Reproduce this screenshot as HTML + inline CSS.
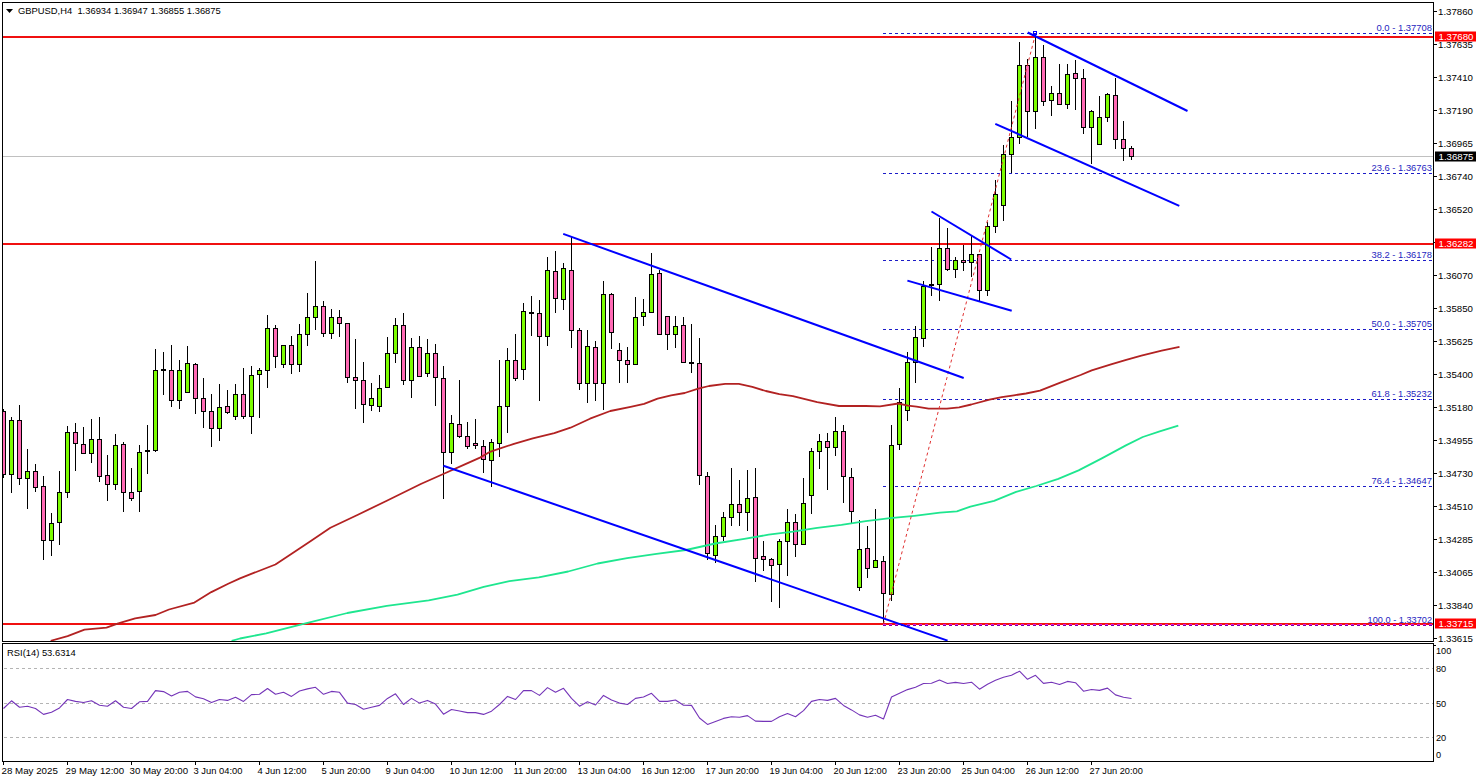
<!DOCTYPE html><html><head><meta charset="utf-8"><style>html,body{margin:0;padding:0;background:#fff;overflow:hidden}svg{display:block}text{font-family:"Liberation Sans",sans-serif;}</style></head><body><svg width="1479" height="782" viewBox="0 0 1479 782"><rect width="1479" height="782" fill="#fff"/><defs><clipPath id="mp"><rect x="3" y="3" width="1430" height="638"/></clipPath><clipPath id="rp"><rect x="3" y="644" width="1430" height="117"/></clipPath></defs><g clip-path="url(#mp)"><rect x="3" y="36" width="1430" height="2" fill="#f01010"/><rect x="3" y="243" width="1430" height="2" fill="#f01010"/><rect x="3" y="623" width="1430" height="2" fill="#f01010"/><rect x="3" y="156" width="1430" height="1" fill="#c0c0c0"/><line x1="883" y1="33.5" x2="1433" y2="33.5" stroke="#1c1cc8" stroke-width="1" stroke-dasharray="3,3"/><line x1="883" y1="173.5" x2="1433" y2="173.5" stroke="#1c1cc8" stroke-width="1" stroke-dasharray="3,3"/><line x1="883" y1="260.5" x2="1433" y2="260.5" stroke="#1c1cc8" stroke-width="1" stroke-dasharray="3,3"/><line x1="883" y1="329.5" x2="1433" y2="329.5" stroke="#1c1cc8" stroke-width="1" stroke-dasharray="3,3"/><line x1="883" y1="399.5" x2="1433" y2="399.5" stroke="#1c1cc8" stroke-width="1" stroke-dasharray="3,3"/><line x1="883" y1="486.5" x2="1433" y2="486.5" stroke="#1c1cc8" stroke-width="1" stroke-dasharray="3,3"/><line x1="883" y1="624.5" x2="1433" y2="624.5" stroke="#e020e0" stroke-width="1" stroke-dasharray="3,3"/><line x1="883" y1="625.5" x2="1433" y2="625.5" stroke="#8000a0" stroke-width="1" stroke-dasharray="3,3"/><g shape-rendering="crispEdges"><rect x="3" y="409" width="1" height="69" fill="#000"/><rect x="1" y="411" width="5" height="64" fill="#000"/><rect x="2" y="412" width="3" height="62" fill="#ff69b4"/><rect x="11" y="417" width="1" height="76" fill="#000"/><rect x="9" y="420" width="5" height="55" fill="#000"/><rect x="10" y="421" width="3" height="53" fill="#7cfc00"/><rect x="19" y="405" width="1" height="80" fill="#000"/><rect x="17" y="420" width="5" height="59" fill="#000"/><rect x="18" y="421" width="3" height="57" fill="#ff69b4"/><rect x="27" y="449" width="1" height="60" fill="#000"/><rect x="25" y="471" width="5" height="8" fill="#000"/><rect x="26" y="472" width="3" height="6" fill="#7cfc00"/><rect x="35" y="464" width="1" height="28" fill="#000"/><rect x="33" y="471" width="5" height="17" fill="#000"/><rect x="34" y="472" width="3" height="15" fill="#ff69b4"/><rect x="43" y="476" width="1" height="84" fill="#000"/><rect x="41" y="486" width="5" height="55" fill="#000"/><rect x="42" y="487" width="3" height="53" fill="#ff69b4"/><rect x="51" y="513" width="1" height="43" fill="#000"/><rect x="49" y="523" width="5" height="18" fill="#000"/><rect x="50" y="524" width="3" height="16" fill="#7cfc00"/><rect x="59" y="471" width="1" height="74" fill="#000"/><rect x="57" y="492" width="5" height="31" fill="#000"/><rect x="58" y="493" width="3" height="29" fill="#7cfc00"/><rect x="67" y="426" width="1" height="72" fill="#000"/><rect x="65" y="432" width="5" height="61" fill="#000"/><rect x="66" y="433" width="3" height="59" fill="#7cfc00"/><rect x="75" y="423" width="1" height="48" fill="#000"/><rect x="73" y="432" width="5" height="12" fill="#000"/><rect x="74" y="433" width="3" height="10" fill="#ff69b4"/><rect x="83" y="427" width="1" height="27" fill="#000"/><rect x="81" y="444" width="5" height="10" fill="#000"/><rect x="82" y="445" width="3" height="8" fill="#ff69b4"/><rect x="91" y="419" width="1" height="44" fill="#000"/><rect x="89" y="439" width="5" height="15" fill="#000"/><rect x="90" y="440" width="3" height="13" fill="#7cfc00"/><rect x="99" y="417" width="1" height="65" fill="#000"/><rect x="97" y="439" width="5" height="38" fill="#000"/><rect x="98" y="440" width="3" height="36" fill="#ff69b4"/><rect x="107" y="455" width="1" height="46" fill="#000"/><rect x="105" y="475" width="5" height="10" fill="#000"/><rect x="106" y="476" width="3" height="8" fill="#ff69b4"/><rect x="115" y="434" width="1" height="56" fill="#000"/><rect x="113" y="445" width="5" height="40" fill="#000"/><rect x="114" y="446" width="3" height="38" fill="#7cfc00"/><rect x="123" y="442" width="1" height="70" fill="#000"/><rect x="121" y="444" width="5" height="49" fill="#000"/><rect x="122" y="445" width="3" height="47" fill="#ff69b4"/><rect x="131" y="468" width="1" height="33" fill="#000"/><rect x="129" y="492" width="5" height="7" fill="#000"/><rect x="130" y="493" width="3" height="5" fill="#ff69b4"/><rect x="139" y="445" width="1" height="67" fill="#000"/><rect x="137" y="452" width="5" height="40" fill="#000"/><rect x="138" y="453" width="3" height="38" fill="#7cfc00"/><rect x="147" y="425" width="1" height="49" fill="#000"/><rect x="145" y="450" width="5" height="2" fill="#000"/><rect x="155" y="349" width="1" height="103" fill="#000"/><rect x="153" y="370" width="5" height="81" fill="#000"/><rect x="154" y="371" width="3" height="79" fill="#7cfc00"/><rect x="163" y="352" width="1" height="43" fill="#000"/><rect x="161" y="369" width="5" height="2" fill="#000"/><rect x="171" y="345" width="1" height="62" fill="#000"/><rect x="169" y="370" width="5" height="31" fill="#000"/><rect x="170" y="371" width="3" height="29" fill="#ff69b4"/><rect x="179" y="360" width="1" height="49" fill="#000"/><rect x="177" y="370" width="5" height="31" fill="#000"/><rect x="178" y="371" width="3" height="29" fill="#7cfc00"/><rect x="187" y="346" width="1" height="47" fill="#000"/><rect x="185" y="363" width="5" height="30" fill="#000"/><rect x="186" y="364" width="3" height="28" fill="#7cfc00"/><rect x="195" y="363" width="1" height="51" fill="#000"/><rect x="193" y="364" width="5" height="35" fill="#000"/><rect x="194" y="365" width="3" height="33" fill="#ff69b4"/><rect x="203" y="378" width="1" height="50" fill="#000"/><rect x="201" y="398" width="5" height="14" fill="#000"/><rect x="202" y="399" width="3" height="12" fill="#ff69b4"/><rect x="211" y="394" width="1" height="53" fill="#000"/><rect x="209" y="411" width="5" height="18" fill="#000"/><rect x="210" y="412" width="3" height="16" fill="#ff69b4"/><rect x="219" y="384" width="1" height="57" fill="#000"/><rect x="217" y="407" width="5" height="22" fill="#000"/><rect x="218" y="408" width="3" height="20" fill="#7cfc00"/><rect x="227" y="390" width="1" height="24" fill="#000"/><rect x="225" y="406" width="5" height="7" fill="#000"/><rect x="226" y="407" width="3" height="5" fill="#ff69b4"/><rect x="235" y="384" width="1" height="36" fill="#000"/><rect x="233" y="394" width="5" height="23" fill="#000"/><rect x="234" y="395" width="3" height="21" fill="#7cfc00"/><rect x="243" y="368" width="1" height="51" fill="#000"/><rect x="241" y="394" width="5" height="23" fill="#000"/><rect x="242" y="395" width="3" height="21" fill="#ff69b4"/><rect x="251" y="366" width="1" height="68" fill="#000"/><rect x="249" y="375" width="5" height="42" fill="#000"/><rect x="250" y="376" width="3" height="40" fill="#7cfc00"/><rect x="259" y="368" width="1" height="50" fill="#000"/><rect x="257" y="370" width="5" height="5" fill="#000"/><rect x="258" y="371" width="3" height="3" fill="#7cfc00"/><rect x="267" y="315" width="1" height="73" fill="#000"/><rect x="265" y="328" width="5" height="43" fill="#000"/><rect x="266" y="329" width="3" height="41" fill="#7cfc00"/><rect x="275" y="325" width="1" height="43" fill="#000"/><rect x="273" y="328" width="5" height="29" fill="#000"/><rect x="274" y="329" width="3" height="27" fill="#ff69b4"/><rect x="283" y="345" width="1" height="23" fill="#000"/><rect x="281" y="345" width="5" height="20" fill="#000"/><rect x="282" y="346" width="3" height="18" fill="#7cfc00"/><rect x="291" y="336" width="1" height="38" fill="#000"/><rect x="289" y="345" width="5" height="20" fill="#000"/><rect x="290" y="346" width="3" height="18" fill="#ff69b4"/><rect x="299" y="324" width="1" height="48" fill="#000"/><rect x="297" y="334" width="5" height="31" fill="#000"/><rect x="298" y="335" width="3" height="29" fill="#7cfc00"/><rect x="307" y="293" width="1" height="53" fill="#000"/><rect x="305" y="317" width="5" height="18" fill="#000"/><rect x="306" y="318" width="3" height="16" fill="#7cfc00"/><rect x="315" y="261" width="1" height="69" fill="#000"/><rect x="313" y="306" width="5" height="12" fill="#000"/><rect x="314" y="307" width="3" height="10" fill="#7cfc00"/><rect x="323" y="301" width="1" height="36" fill="#000"/><rect x="321" y="306" width="5" height="28" fill="#000"/><rect x="322" y="307" width="3" height="26" fill="#ff69b4"/><rect x="331" y="309" width="1" height="30" fill="#000"/><rect x="329" y="317" width="5" height="17" fill="#000"/><rect x="330" y="318" width="3" height="15" fill="#7cfc00"/><rect x="339" y="310" width="1" height="27" fill="#000"/><rect x="337" y="317" width="5" height="7" fill="#000"/><rect x="338" y="318" width="3" height="5" fill="#ff69b4"/><rect x="347" y="323" width="1" height="60" fill="#000"/><rect x="345" y="323" width="5" height="55" fill="#000"/><rect x="346" y="324" width="3" height="53" fill="#ff69b4"/><rect x="355" y="339" width="1" height="70" fill="#000"/><rect x="353" y="377" width="5" height="4" fill="#000"/><rect x="354" y="378" width="3" height="2" fill="#ff69b4"/><rect x="363" y="362" width="1" height="61" fill="#000"/><rect x="361" y="380" width="5" height="25" fill="#000"/><rect x="362" y="381" width="3" height="23" fill="#ff69b4"/><rect x="371" y="383" width="1" height="28" fill="#000"/><rect x="369" y="398" width="5" height="8" fill="#000"/><rect x="370" y="399" width="3" height="6" fill="#7cfc00"/><rect x="379" y="375" width="1" height="37" fill="#000"/><rect x="377" y="388" width="5" height="19" fill="#000"/><rect x="378" y="389" width="3" height="17" fill="#7cfc00"/><rect x="387" y="337" width="1" height="51" fill="#000"/><rect x="385" y="353" width="5" height="35" fill="#000"/><rect x="386" y="354" width="3" height="33" fill="#7cfc00"/><rect x="395" y="318" width="1" height="45" fill="#000"/><rect x="393" y="325" width="5" height="29" fill="#000"/><rect x="394" y="326" width="3" height="27" fill="#7cfc00"/><rect x="403" y="313" width="1" height="72" fill="#000"/><rect x="401" y="325" width="5" height="56" fill="#000"/><rect x="402" y="326" width="3" height="54" fill="#ff69b4"/><rect x="411" y="338" width="1" height="60" fill="#000"/><rect x="409" y="347" width="5" height="34" fill="#000"/><rect x="410" y="348" width="3" height="32" fill="#7cfc00"/><rect x="419" y="336" width="1" height="41" fill="#000"/><rect x="417" y="347" width="5" height="30" fill="#000"/><rect x="418" y="348" width="3" height="28" fill="#ff69b4"/><rect x="427" y="339" width="1" height="38" fill="#000"/><rect x="425" y="353" width="5" height="21" fill="#000"/><rect x="426" y="354" width="3" height="19" fill="#7cfc00"/><rect x="435" y="344" width="1" height="62" fill="#000"/><rect x="433" y="353" width="5" height="25" fill="#000"/><rect x="434" y="354" width="3" height="23" fill="#ff69b4"/><rect x="443" y="366" width="1" height="133" fill="#000"/><rect x="441" y="378" width="5" height="75" fill="#000"/><rect x="442" y="379" width="3" height="73" fill="#ff69b4"/><rect x="451" y="415" width="1" height="49" fill="#000"/><rect x="449" y="423" width="5" height="30" fill="#000"/><rect x="450" y="424" width="3" height="28" fill="#7cfc00"/><rect x="459" y="380" width="1" height="58" fill="#000"/><rect x="457" y="424" width="5" height="13" fill="#000"/><rect x="458" y="425" width="3" height="11" fill="#ff69b4"/><rect x="467" y="422" width="1" height="27" fill="#000"/><rect x="465" y="436" width="5" height="11" fill="#000"/><rect x="466" y="437" width="3" height="9" fill="#ff69b4"/><rect x="475" y="419" width="1" height="30" fill="#000"/><rect x="473" y="443" width="5" height="3" fill="#000"/><rect x="474" y="444" width="3" height="1" fill="#ff69b4"/><rect x="483" y="440" width="1" height="33" fill="#000"/><rect x="481" y="446" width="5" height="14" fill="#000"/><rect x="482" y="447" width="3" height="12" fill="#ff69b4"/><rect x="491" y="439" width="1" height="48" fill="#000"/><rect x="489" y="442" width="5" height="19" fill="#000"/><rect x="490" y="443" width="3" height="17" fill="#7cfc00"/><rect x="499" y="360" width="1" height="97" fill="#000"/><rect x="497" y="406" width="5" height="38" fill="#000"/><rect x="498" y="407" width="3" height="36" fill="#7cfc00"/><rect x="507" y="348" width="1" height="85" fill="#000"/><rect x="505" y="360" width="5" height="47" fill="#000"/><rect x="506" y="361" width="3" height="45" fill="#7cfc00"/><rect x="515" y="334" width="1" height="47" fill="#000"/><rect x="513" y="360" width="5" height="19" fill="#000"/><rect x="514" y="361" width="3" height="17" fill="#ff69b4"/><rect x="523" y="303" width="1" height="77" fill="#000"/><rect x="521" y="311" width="5" height="59" fill="#000"/><rect x="522" y="312" width="3" height="57" fill="#7cfc00"/><rect x="531" y="296" width="1" height="40" fill="#000"/><rect x="529" y="312" width="5" height="2" fill="#000"/><rect x="539" y="300" width="1" height="101" fill="#000"/><rect x="537" y="313" width="5" height="24" fill="#000"/><rect x="538" y="314" width="3" height="22" fill="#ff69b4"/><rect x="547" y="257" width="1" height="89" fill="#000"/><rect x="545" y="270" width="5" height="67" fill="#000"/><rect x="546" y="271" width="3" height="65" fill="#7cfc00"/><rect x="555" y="251" width="1" height="62" fill="#000"/><rect x="553" y="271" width="5" height="28" fill="#000"/><rect x="554" y="272" width="3" height="26" fill="#ff69b4"/><rect x="563" y="263" width="1" height="47" fill="#000"/><rect x="561" y="268" width="5" height="32" fill="#000"/><rect x="562" y="269" width="3" height="30" fill="#7cfc00"/><rect x="571" y="237" width="1" height="111" fill="#000"/><rect x="569" y="270" width="5" height="61" fill="#000"/><rect x="570" y="271" width="3" height="59" fill="#ff69b4"/><rect x="579" y="328" width="1" height="62" fill="#000"/><rect x="577" y="330" width="5" height="54" fill="#000"/><rect x="578" y="331" width="3" height="52" fill="#ff69b4"/><rect x="587" y="330" width="1" height="73" fill="#000"/><rect x="585" y="346" width="5" height="38" fill="#000"/><rect x="586" y="347" width="3" height="36" fill="#7cfc00"/><rect x="595" y="341" width="1" height="60" fill="#000"/><rect x="593" y="347" width="5" height="37" fill="#000"/><rect x="594" y="348" width="3" height="35" fill="#ff69b4"/><rect x="603" y="281" width="1" height="129" fill="#000"/><rect x="601" y="294" width="5" height="90" fill="#000"/><rect x="602" y="295" width="3" height="88" fill="#7cfc00"/><rect x="611" y="293" width="1" height="56" fill="#000"/><rect x="609" y="294" width="5" height="39" fill="#000"/><rect x="610" y="295" width="3" height="37" fill="#ff69b4"/><rect x="619" y="343" width="1" height="40" fill="#000"/><rect x="617" y="350" width="5" height="11" fill="#000"/><rect x="618" y="351" width="3" height="9" fill="#ff69b4"/><rect x="627" y="347" width="1" height="36" fill="#000"/><rect x="625" y="360" width="5" height="5" fill="#000"/><rect x="626" y="361" width="3" height="3" fill="#ff69b4"/><rect x="635" y="297" width="1" height="68" fill="#000"/><rect x="633" y="317" width="5" height="48" fill="#000"/><rect x="634" y="318" width="3" height="46" fill="#7cfc00"/><rect x="643" y="299" width="1" height="27" fill="#000"/><rect x="641" y="312" width="5" height="5" fill="#000"/><rect x="642" y="313" width="3" height="3" fill="#7cfc00"/><rect x="651" y="253" width="1" height="60" fill="#000"/><rect x="649" y="274" width="5" height="39" fill="#000"/><rect x="650" y="275" width="3" height="37" fill="#7cfc00"/><rect x="659" y="270" width="1" height="65" fill="#000"/><rect x="657" y="273" width="5" height="62" fill="#000"/><rect x="658" y="274" width="3" height="60" fill="#ff69b4"/><rect x="667" y="316" width="1" height="34" fill="#000"/><rect x="665" y="316" width="5" height="19" fill="#000"/><rect x="666" y="317" width="3" height="17" fill="#ff69b4"/><rect x="675" y="316" width="1" height="32" fill="#000"/><rect x="673" y="326" width="5" height="9" fill="#000"/><rect x="674" y="327" width="3" height="7" fill="#7cfc00"/><rect x="683" y="317" width="1" height="46" fill="#000"/><rect x="681" y="325" width="5" height="38" fill="#000"/><rect x="682" y="326" width="3" height="36" fill="#ff69b4"/><rect x="691" y="324" width="1" height="49" fill="#000"/><rect x="689" y="362" width="5" height="2" fill="#000"/><rect x="699" y="338" width="1" height="147" fill="#000"/><rect x="697" y="363" width="5" height="113" fill="#000"/><rect x="698" y="364" width="3" height="111" fill="#ff69b4"/><rect x="707" y="472" width="1" height="88" fill="#000"/><rect x="705" y="476" width="5" height="78" fill="#000"/><rect x="706" y="477" width="3" height="76" fill="#ff69b4"/><rect x="715" y="525" width="1" height="38" fill="#000"/><rect x="713" y="536" width="5" height="20" fill="#000"/><rect x="714" y="537" width="3" height="18" fill="#7cfc00"/><rect x="723" y="512" width="1" height="29" fill="#000"/><rect x="721" y="517" width="5" height="20" fill="#000"/><rect x="722" y="518" width="3" height="18" fill="#7cfc00"/><rect x="731" y="468" width="1" height="58" fill="#000"/><rect x="729" y="504" width="5" height="14" fill="#000"/><rect x="730" y="505" width="3" height="12" fill="#7cfc00"/><rect x="739" y="480" width="1" height="46" fill="#000"/><rect x="737" y="504" width="5" height="9" fill="#000"/><rect x="738" y="505" width="3" height="7" fill="#ff69b4"/><rect x="747" y="470" width="1" height="61" fill="#000"/><rect x="745" y="498" width="5" height="15" fill="#000"/><rect x="746" y="499" width="3" height="13" fill="#7cfc00"/><rect x="755" y="468" width="1" height="114" fill="#000"/><rect x="753" y="497" width="5" height="62" fill="#000"/><rect x="754" y="498" width="3" height="60" fill="#ff69b4"/><rect x="763" y="541" width="1" height="30" fill="#000"/><rect x="761" y="556" width="5" height="4" fill="#000"/><rect x="762" y="557" width="3" height="2" fill="#ff69b4"/><rect x="771" y="558" width="1" height="44" fill="#000"/><rect x="769" y="559" width="5" height="7" fill="#000"/><rect x="770" y="560" width="3" height="5" fill="#ff69b4"/><rect x="779" y="539" width="1" height="69" fill="#000"/><rect x="777" y="541" width="5" height="24" fill="#000"/><rect x="778" y="542" width="3" height="22" fill="#7cfc00"/><rect x="787" y="509" width="1" height="67" fill="#000"/><rect x="785" y="522" width="5" height="20" fill="#000"/><rect x="786" y="523" width="3" height="18" fill="#7cfc00"/><rect x="795" y="514" width="1" height="43" fill="#000"/><rect x="793" y="522" width="5" height="23" fill="#000"/><rect x="794" y="523" width="3" height="21" fill="#ff69b4"/><rect x="803" y="478" width="1" height="67" fill="#000"/><rect x="801" y="503" width="5" height="42" fill="#000"/><rect x="802" y="504" width="3" height="40" fill="#7cfc00"/><rect x="811" y="448" width="1" height="66" fill="#000"/><rect x="809" y="451" width="5" height="45" fill="#000"/><rect x="810" y="452" width="3" height="43" fill="#7cfc00"/><rect x="819" y="434" width="1" height="35" fill="#000"/><rect x="817" y="441" width="5" height="11" fill="#000"/><rect x="818" y="442" width="3" height="9" fill="#7cfc00"/><rect x="827" y="433" width="1" height="57" fill="#000"/><rect x="825" y="441" width="5" height="7" fill="#000"/><rect x="826" y="442" width="3" height="5" fill="#ff69b4"/><rect x="835" y="417" width="1" height="39" fill="#000"/><rect x="833" y="431" width="5" height="17" fill="#000"/><rect x="834" y="432" width="3" height="15" fill="#7cfc00"/><rect x="843" y="425" width="1" height="78" fill="#000"/><rect x="841" y="431" width="5" height="46" fill="#000"/><rect x="842" y="432" width="3" height="44" fill="#ff69b4"/><rect x="851" y="468" width="1" height="55" fill="#000"/><rect x="849" y="477" width="5" height="35" fill="#000"/><rect x="850" y="478" width="3" height="33" fill="#ff69b4"/><rect x="859" y="520" width="1" height="71" fill="#000"/><rect x="857" y="549" width="5" height="39" fill="#000"/><rect x="858" y="550" width="3" height="37" fill="#7cfc00"/><rect x="867" y="526" width="1" height="52" fill="#000"/><rect x="865" y="548" width="5" height="21" fill="#000"/><rect x="866" y="549" width="3" height="19" fill="#ff69b4"/><rect x="875" y="509" width="1" height="59" fill="#000"/><rect x="873" y="560" width="5" height="8" fill="#000"/><rect x="874" y="561" width="3" height="6" fill="#7cfc00"/><rect x="883" y="556" width="1" height="68" fill="#000"/><rect x="881" y="561" width="5" height="33" fill="#000"/><rect x="882" y="562" width="3" height="31" fill="#ff69b4"/><rect x="891" y="425" width="1" height="176" fill="#000"/><rect x="889" y="445" width="5" height="150" fill="#000"/><rect x="890" y="446" width="3" height="148" fill="#7cfc00"/><rect x="899" y="388" width="1" height="62" fill="#000"/><rect x="897" y="402" width="5" height="43" fill="#000"/><rect x="898" y="403" width="3" height="41" fill="#7cfc00"/><rect x="907" y="352" width="1" height="69" fill="#000"/><rect x="905" y="362" width="5" height="49" fill="#000"/><rect x="906" y="363" width="3" height="47" fill="#7cfc00"/><rect x="915" y="326" width="1" height="57" fill="#000"/><rect x="913" y="337" width="5" height="26" fill="#000"/><rect x="914" y="338" width="3" height="24" fill="#7cfc00"/><rect x="923" y="281" width="1" height="66" fill="#000"/><rect x="921" y="286" width="5" height="53" fill="#000"/><rect x="922" y="287" width="3" height="51" fill="#7cfc00"/><rect x="931" y="247" width="1" height="49" fill="#000"/><rect x="929" y="284" width="5" height="2" fill="#000"/><rect x="939" y="218" width="1" height="83" fill="#000"/><rect x="937" y="248" width="5" height="37" fill="#000"/><rect x="938" y="249" width="3" height="35" fill="#7cfc00"/><rect x="947" y="228" width="1" height="43" fill="#000"/><rect x="945" y="248" width="5" height="22" fill="#000"/><rect x="946" y="249" width="3" height="20" fill="#ff69b4"/><rect x="955" y="257" width="1" height="21" fill="#000"/><rect x="953" y="260" width="5" height="10" fill="#000"/><rect x="954" y="261" width="3" height="8" fill="#7cfc00"/><rect x="963" y="245" width="1" height="26" fill="#000"/><rect x="961" y="260" width="5" height="3" fill="#000"/><rect x="962" y="261" width="3" height="1" fill="#ff69b4"/><rect x="971" y="236" width="1" height="41" fill="#000"/><rect x="969" y="254" width="5" height="9" fill="#000"/><rect x="970" y="255" width="3" height="7" fill="#7cfc00"/><rect x="979" y="254" width="1" height="48" fill="#000"/><rect x="977" y="254" width="5" height="37" fill="#000"/><rect x="978" y="255" width="3" height="35" fill="#ff69b4"/><rect x="987" y="222" width="1" height="74" fill="#000"/><rect x="985" y="226" width="5" height="65" fill="#000"/><rect x="986" y="227" width="3" height="63" fill="#7cfc00"/><rect x="995" y="180" width="1" height="53" fill="#000"/><rect x="993" y="194" width="5" height="33" fill="#000"/><rect x="994" y="195" width="3" height="31" fill="#7cfc00"/><rect x="1003" y="145" width="1" height="76" fill="#000"/><rect x="1001" y="154" width="5" height="52" fill="#000"/><rect x="1002" y="155" width="3" height="50" fill="#7cfc00"/><rect x="1011" y="101" width="1" height="72" fill="#000"/><rect x="1009" y="137" width="5" height="18" fill="#000"/><rect x="1010" y="138" width="3" height="16" fill="#7cfc00"/><rect x="1019" y="42" width="1" height="102" fill="#000"/><rect x="1017" y="65" width="5" height="73" fill="#000"/><rect x="1018" y="66" width="3" height="71" fill="#7cfc00"/><rect x="1027" y="59" width="1" height="78" fill="#000"/><rect x="1025" y="65" width="5" height="47" fill="#000"/><rect x="1026" y="66" width="3" height="45" fill="#ff69b4"/><rect x="1035" y="35" width="1" height="94" fill="#000"/><rect x="1033" y="57" width="5" height="55" fill="#000"/><rect x="1034" y="58" width="3" height="53" fill="#7cfc00"/><rect x="1043" y="45" width="1" height="61" fill="#000"/><rect x="1041" y="57" width="5" height="45" fill="#000"/><rect x="1042" y="58" width="3" height="43" fill="#ff69b4"/><rect x="1051" y="86" width="1" height="30" fill="#000"/><rect x="1049" y="93" width="5" height="8" fill="#000"/><rect x="1050" y="94" width="3" height="6" fill="#7cfc00"/><rect x="1059" y="64" width="1" height="41" fill="#000"/><rect x="1057" y="93" width="5" height="12" fill="#000"/><rect x="1058" y="94" width="3" height="10" fill="#ff69b4"/><rect x="1067" y="64" width="1" height="45" fill="#000"/><rect x="1065" y="74" width="5" height="31" fill="#000"/><rect x="1066" y="75" width="3" height="29" fill="#7cfc00"/><rect x="1075" y="60" width="1" height="50" fill="#000"/><rect x="1073" y="73" width="5" height="6" fill="#000"/><rect x="1074" y="74" width="3" height="4" fill="#ff69b4"/><rect x="1083" y="69" width="1" height="65" fill="#000"/><rect x="1081" y="78" width="5" height="50" fill="#000"/><rect x="1082" y="79" width="3" height="48" fill="#ff69b4"/><rect x="1091" y="110" width="1" height="54" fill="#000"/><rect x="1089" y="111" width="5" height="17" fill="#000"/><rect x="1090" y="112" width="3" height="15" fill="#7cfc00"/><rect x="1099" y="96" width="1" height="49" fill="#000"/><rect x="1097" y="117" width="5" height="28" fill="#000"/><rect x="1098" y="118" width="3" height="26" fill="#7cfc00"/><rect x="1107" y="93" width="1" height="29" fill="#000"/><rect x="1105" y="94" width="5" height="24" fill="#000"/><rect x="1106" y="95" width="3" height="22" fill="#7cfc00"/><rect x="1115" y="78" width="1" height="71" fill="#000"/><rect x="1113" y="95" width="5" height="45" fill="#000"/><rect x="1114" y="96" width="3" height="43" fill="#ff69b4"/><rect x="1123" y="121" width="1" height="40" fill="#000"/><rect x="1121" y="139" width="5" height="10" fill="#000"/><rect x="1122" y="140" width="3" height="8" fill="#ff69b4"/><rect x="1131" y="146" width="1" height="14" fill="#000"/><rect x="1129" y="148" width="5" height="9" fill="#000"/><rect x="1130" y="149" width="3" height="7" fill="#ff69b4"/></g><polyline points="50.7,640.8 67.6,636.1 84.5,629.6 106.5,627.6 118.3,623.4 135.2,618.3 155.5,615.0 169.0,609.5 194.4,602.6 211.3,592.1 228.2,583.7 240.0,578.4 250.0,574.4 275.4,564.5 292.4,553.2 310.8,540.9 330.4,527.8 357.9,514.7 386.8,500.8 420.8,484.0 444.4,473.5 465.4,464.1 480.0,457.6 490.0,451.8 498.0,449.2 514.0,443.8 532.8,438.4 554.3,433.1 570.5,427.7 590.0,418.7 610.3,411.0 630.6,406.8 644.1,403.8 657.6,398.7 671.1,395.4 684.7,393.0 698.2,388.7 709.0,386.0 725.2,383.9 738.8,383.9 752.3,386.9 765.8,391.0 779.3,394.1 792.9,396.2 817.2,402.1 839.0,406.0 865.8,406.0 880.0,406.3 898.3,403.5 908.0,405.7 916.5,406.7 928.7,408.7 947.0,408.7 959.1,407.3 971.3,404.5 989.5,399.6 1001.7,397.2 1013.9,395.3 1026.0,393.5 1040.0,390.7 1060.3,382.6 1080.6,375.0 1091.7,370.4 1111.0,364.3 1126.2,359.8 1141.4,355.7 1161.7,350.6 1179.5,346.9" fill="none" stroke="#b22222" stroke-width="1.8" stroke-linejoin="round"/><polyline points="231.6,640.8 240.0,638.5 266.2,633.4 305.5,623.4 347.4,613.0 386.8,605.9 428.7,600.4 457.5,594.6 483.7,586.8 509.4,581.2 538.8,577.4 568.2,571.5 597.6,563.5 627.1,558.2 656.5,553.8 685.9,550.0 715.3,543.5 744.3,538.9 768.6,534.7 792.9,531.6 817.2,527.9 841.5,524.8 865.8,521.1 890.1,518.2 914.4,515.8 940.0,512.7 956.9,511.3 970.4,506.6 994.1,500.9 1016.1,491.9 1036.3,486.0 1058.3,478.9 1078.6,470.4 1102.3,458.1 1125.9,445.4 1142.8,437.0 1159.7,431.4 1178.3,425.6" fill="none" stroke="#1ee68f" stroke-width="1.8" stroke-linejoin="round"/><line x1="883.5" y1="624" x2="1035.5" y2="34" stroke="#e03030" stroke-width="1" stroke-dasharray="3,3"/><line x1="563.2" y1="233.9" x2="963.7" y2="378" stroke="#0000ff" stroke-width="2"/><line x1="443.4" y1="465.7" x2="947.6" y2="640.6" stroke="#0000ff" stroke-width="2"/><line x1="931.5" y1="211.5" x2="1011.2" y2="259.5" stroke="#0000ff" stroke-width="2"/><line x1="907.4" y1="280.6" x2="1011.7" y2="310.8" stroke="#0000ff" stroke-width="2"/><line x1="1027.7" y1="32.5" x2="1187.5" y2="111" stroke="#0000ff" stroke-width="2"/><line x1="995.3" y1="123.8" x2="1179.3" y2="205.9" stroke="#0000ff" stroke-width="2"/><rect x="1033.5" y="31.5" width="3" height="3" fill="none" stroke="#0000ff" stroke-width="1"/><text x="1376.4" y="31" font-size="9.9" fill="#2626c0" textLength="55.6" lengthAdjust="spacingAndGlyphs">0.0 - 1.37708</text><text x="1371.5" y="171" font-size="9.9" fill="#2626c0" textLength="60.5" lengthAdjust="spacingAndGlyphs">23.6 - 1.36763</text><text x="1371.5" y="258" font-size="9.9" fill="#2626c0" textLength="60.5" lengthAdjust="spacingAndGlyphs">38.2 - 1.36178</text><text x="1371.5" y="327" font-size="9.9" fill="#2626c0" textLength="60.5" lengthAdjust="spacingAndGlyphs">50.0 - 1.35705</text><text x="1371.5" y="397" font-size="9.9" fill="#2626c0" textLength="60.5" lengthAdjust="spacingAndGlyphs">61.8 - 1.35232</text><text x="1371.5" y="484" font-size="9.9" fill="#2626c0" textLength="60.5" lengthAdjust="spacingAndGlyphs">76.4 - 1.34647</text><text x="1367.6" y="623" font-size="9.9" fill="#2626c0" textLength="64.4" lengthAdjust="spacingAndGlyphs">100.0 - 1.33702</text></g><g clip-path="url(#rp)"><line x1="4" y1="668.5" x2="1433" y2="668.5" stroke="#b4b4b4" stroke-width="1" stroke-dasharray="3,3"/><line x1="4" y1="703.5" x2="1433" y2="703.5" stroke="#b4b4b4" stroke-width="1" stroke-dasharray="3,3"/><line x1="4" y1="737.5" x2="1433" y2="737.5" stroke="#b4b4b4" stroke-width="1" stroke-dasharray="3,3"/><polyline points="3.5,708.5 11.5,700.8 19.5,707.2 27.5,706.2 35.5,708.5 43.5,714.4 51.5,712.2 59.5,707.9 67.5,699.5 75.5,701.4 83.5,702.5 91.5,700.8 99.5,705.2 107.5,706.2 115.5,700.8 123.5,707.2 131.5,708.5 139.5,701.8 147.5,701.4 155.5,690.6 163.5,691.6 171.5,696.0 179.5,692.3 187.5,691.4 195.5,696.9 203.5,698.7 211.5,702.5 219.5,699.5 227.5,700.4 235.5,697.3 243.5,701.4 251.5,694.6 259.5,694.3 267.5,688.5 275.5,694.3 283.5,692.3 291.5,696.4 299.5,691.0 307.5,688.9 315.5,687.3 323.5,694.3 331.5,691.4 339.5,692.3 347.5,703.1 355.5,704.5 363.5,709.2 371.5,707.2 379.5,705.4 387.5,698.4 395.5,693.8 403.5,704.5 411.5,698.4 419.5,703.1 427.5,700.4 435.5,704.1 443.5,714.2 451.5,709.5 459.5,711.0 467.5,712.6 475.5,712.6 483.5,714.4 491.5,711.2 499.5,704.5 507.5,696.4 515.5,699.5 523.5,690.6 531.5,690.6 539.5,695.4 547.5,687.6 555.5,692.3 563.5,688.3 571.5,698.4 579.5,706.2 587.5,701.8 595.5,705.0 603.5,695.4 611.5,700.0 619.5,703.1 627.5,704.5 635.5,698.4 643.5,697.0 651.5,693.3 659.5,701.4 667.5,701.4 675.5,700.0 683.5,705.2 691.5,705.4 699.5,718.0 707.5,724.4 715.5,721.4 723.5,718.4 731.5,716.7 739.5,717.3 747.5,715.6 755.5,721.1 763.5,721.4 771.5,721.4 779.5,716.7 787.5,713.5 795.5,716.7 803.5,710.6 811.5,701.4 819.5,699.5 827.5,700.4 835.5,698.4 843.5,705.4 851.5,709.9 859.5,714.9 867.5,717.3 875.5,715.3 883.5,719.0 891.5,697.0 899.5,693.3 907.5,689.6 915.5,687.3 923.5,683.5 931.5,683.3 939.5,680.1 947.5,683.5 955.5,682.4 963.5,683.5 971.5,682.2 979.5,689.2 987.5,684.2 995.5,680.2 1003.5,677.3 1011.5,675.3 1019.5,671.2 1027.5,679.3 1035.5,675.3 1043.5,683.4 1051.5,682.3 1059.5,684.5 1067.5,681.4 1075.5,682.7 1083.5,691.2 1091.5,689.5 1099.5,690.4 1107.5,688.1 1115.5,694.9 1123.5,697.2 1131.5,698.5" fill="none" stroke="#7434b8" stroke-width="1.1" stroke-linejoin="round"/></g><g shape-rendering="crispEdges" fill="#000"><rect x="2" y="2" width="1432" height="1"/><rect x="2" y="2" width="1" height="640"/><rect x="1433" y="2" width="1" height="640"/><rect x="2" y="641" width="1432" height="1"/><rect x="2" y="643" width="1432" height="1"/><rect x="2" y="643" width="1" height="119"/><rect x="1433" y="643" width="1" height="119"/><rect x="2" y="761" width="1432" height="1"/><rect x="1434" y="11" width="3" height="1"/><rect x="1434" y="44" width="3" height="1"/><rect x="1434" y="77" width="3" height="1"/><rect x="1434" y="110" width="3" height="1"/><rect x="1434" y="143" width="3" height="1"/><rect x="1434" y="176" width="3" height="1"/><rect x="1434" y="209" width="3" height="1"/><rect x="1434" y="242" width="3" height="1"/><rect x="1434" y="275" width="3" height="1"/><rect x="1434" y="308" width="3" height="1"/><rect x="1434" y="341" width="3" height="1"/><rect x="1434" y="374" width="3" height="1"/><rect x="1434" y="407" width="3" height="1"/><rect x="1434" y="440" width="3" height="1"/><rect x="1434" y="473" width="3" height="1"/><rect x="1434" y="506" width="3" height="1"/><rect x="1434" y="539" width="3" height="1"/><rect x="1434" y="572" width="3" height="1"/><rect x="1434" y="605" width="3" height="1"/><rect x="1434" y="638" width="3" height="1"/><rect x="3" y="762" width="1" height="3"/><rect x="67" y="762" width="1" height="3"/><rect x="131" y="762" width="1" height="3"/><rect x="195" y="762" width="1" height="3"/><rect x="259" y="762" width="1" height="3"/><rect x="323" y="762" width="1" height="3"/><rect x="387" y="762" width="1" height="3"/><rect x="451" y="762" width="1" height="3"/><rect x="515" y="762" width="1" height="3"/><rect x="579" y="762" width="1" height="3"/><rect x="643" y="762" width="1" height="3"/><rect x="707" y="762" width="1" height="3"/><rect x="771" y="762" width="1" height="3"/><rect x="835" y="762" width="1" height="3"/><rect x="899" y="762" width="1" height="3"/><rect x="963" y="762" width="1" height="3"/><rect x="1027" y="762" width="1" height="3"/><rect x="1091" y="762" width="1" height="3"/><rect x="1434" y="645" width="2" height="1"/></g><text x="1438" y="14.8" font-size="9.6" fill="#000" textLength="35" lengthAdjust="spacingAndGlyphs">1.37860</text><text x="1438" y="47.8" font-size="9.6" fill="#000" textLength="35" lengthAdjust="spacingAndGlyphs">1.37635</text><text x="1438" y="80.8" font-size="9.6" fill="#000" textLength="35" lengthAdjust="spacingAndGlyphs">1.37410</text><text x="1438" y="113.8" font-size="9.6" fill="#000" textLength="35" lengthAdjust="spacingAndGlyphs">1.37190</text><text x="1438" y="146.8" font-size="9.6" fill="#000" textLength="35" lengthAdjust="spacingAndGlyphs">1.36965</text><text x="1438" y="179.8" font-size="9.6" fill="#000" textLength="35" lengthAdjust="spacingAndGlyphs">1.36740</text><text x="1438" y="212.8" font-size="9.6" fill="#000" textLength="35" lengthAdjust="spacingAndGlyphs">1.36520</text><text x="1438" y="245.8" font-size="9.6" fill="#000" textLength="35" lengthAdjust="spacingAndGlyphs">1.36295</text><text x="1438" y="278.8" font-size="9.6" fill="#000" textLength="35" lengthAdjust="spacingAndGlyphs">1.36070</text><text x="1438" y="311.8" font-size="9.6" fill="#000" textLength="35" lengthAdjust="spacingAndGlyphs">1.35850</text><text x="1438" y="344.8" font-size="9.6" fill="#000" textLength="35" lengthAdjust="spacingAndGlyphs">1.35625</text><text x="1438" y="377.8" font-size="9.6" fill="#000" textLength="35" lengthAdjust="spacingAndGlyphs">1.35400</text><text x="1438" y="410.8" font-size="9.6" fill="#000" textLength="35" lengthAdjust="spacingAndGlyphs">1.35180</text><text x="1438" y="443.8" font-size="9.6" fill="#000" textLength="35" lengthAdjust="spacingAndGlyphs">1.34955</text><text x="1438" y="476.8" font-size="9.6" fill="#000" textLength="35" lengthAdjust="spacingAndGlyphs">1.34730</text><text x="1438" y="509.8" font-size="9.6" fill="#000" textLength="35" lengthAdjust="spacingAndGlyphs">1.34510</text><text x="1438" y="542.8" font-size="9.6" fill="#000" textLength="35" lengthAdjust="spacingAndGlyphs">1.34285</text><text x="1438" y="575.8" font-size="9.6" fill="#000" textLength="35" lengthAdjust="spacingAndGlyphs">1.34065</text><text x="1438" y="608.8" font-size="9.6" fill="#000" textLength="35" lengthAdjust="spacingAndGlyphs">1.33840</text><text x="1438" y="641.8" font-size="9.6" fill="#000" textLength="35" lengthAdjust="spacingAndGlyphs">1.33615</text><rect x="1435" y="31.5" width="41" height="10" fill="#ff0000"/><text x="1438.5" y="40.0" font-size="9.6" fill="#fff" textLength="35" lengthAdjust="spacingAndGlyphs">1.37680</text><rect x="1435" y="238.5" width="41" height="10" fill="#ff0000"/><text x="1438.5" y="247.0" font-size="9.6" fill="#fff" textLength="35" lengthAdjust="spacingAndGlyphs">1.36282</text><rect x="1435" y="151.5" width="41" height="10" fill="#000000"/><text x="1438.5" y="160.0" font-size="9.6" fill="#fff" textLength="35" lengthAdjust="spacingAndGlyphs">1.36875</text><rect x="1435" y="618.5" width="41" height="10" fill="#ff0000"/><text x="1438.5" y="627.0" font-size="9.6" fill="#fff" textLength="35" lengthAdjust="spacingAndGlyphs">1.33715</text><text x="1436" y="653.8" font-size="9.2" fill="#000">100</text><text x="1436" y="671.8" font-size="9.2" fill="#000">80</text><text x="1436" y="706.8" font-size="9.2" fill="#000">50</text><text x="1436" y="740.8" font-size="9.2" fill="#000">20</text><text x="1436" y="757.8" font-size="9.2" fill="#000">0</text><text x="1.5" y="774" font-size="9.6" fill="#000" textLength="56.3" lengthAdjust="spacingAndGlyphs">28 May 2025</text><text x="65.5" y="774" font-size="9.6" fill="#000" textLength="58.6" lengthAdjust="spacingAndGlyphs">29 May 12:00</text><text x="129.5" y="774" font-size="9.6" fill="#000" textLength="58.6" lengthAdjust="spacingAndGlyphs">30 May 20:00</text><text x="193.5" y="774" font-size="9.6" fill="#000" textLength="49.0" lengthAdjust="spacingAndGlyphs">3 Jun 04:00</text><text x="257.5" y="774" font-size="9.6" fill="#000" textLength="49.0" lengthAdjust="spacingAndGlyphs">4 Jun 12:00</text><text x="321.5" y="774" font-size="9.6" fill="#000" textLength="49.0" lengthAdjust="spacingAndGlyphs">5 Jun 20:00</text><text x="385.5" y="774" font-size="9.6" fill="#000" textLength="49.0" lengthAdjust="spacingAndGlyphs">9 Jun 04:00</text><text x="449.5" y="774" font-size="9.6" fill="#000" textLength="53.3" lengthAdjust="spacingAndGlyphs">10 Jun 12:00</text><text x="513.5" y="774" font-size="9.6" fill="#000" textLength="53.3" lengthAdjust="spacingAndGlyphs">11 Jun 20:00</text><text x="577.5" y="774" font-size="9.6" fill="#000" textLength="53.3" lengthAdjust="spacingAndGlyphs">13 Jun 04:00</text><text x="641.5" y="774" font-size="9.6" fill="#000" textLength="53.3" lengthAdjust="spacingAndGlyphs">16 Jun 12:00</text><text x="705.5" y="774" font-size="9.6" fill="#000" textLength="53.3" lengthAdjust="spacingAndGlyphs">17 Jun 20:00</text><text x="769.5" y="774" font-size="9.6" fill="#000" textLength="53.3" lengthAdjust="spacingAndGlyphs">19 Jun 04:00</text><text x="833.5" y="774" font-size="9.6" fill="#000" textLength="53.3" lengthAdjust="spacingAndGlyphs">20 Jun 12:00</text><text x="897.5" y="774" font-size="9.6" fill="#000" textLength="53.3" lengthAdjust="spacingAndGlyphs">23 Jun 20:00</text><text x="961.5" y="774" font-size="9.6" fill="#000" textLength="53.3" lengthAdjust="spacingAndGlyphs">25 Jun 04:00</text><text x="1025.5" y="774" font-size="9.6" fill="#000" textLength="53.3" lengthAdjust="spacingAndGlyphs">26 Jun 12:00</text><text x="1089.5" y="774" font-size="9.6" fill="#000" textLength="53.3" lengthAdjust="spacingAndGlyphs">27 Jun 20:00</text><path d="M6,9 L13,9 L9.5,13 Z" fill="#000"/><text x="18" y="14" font-size="9.4" fill="#000" xml:space="preserve">GBPUSD,H4  1.36934 1.36947 1.36855 1.36875</text><text x="7" y="656" font-size="9.4" fill="#000">RSI(14) 53.6314</text></svg></body></html>
